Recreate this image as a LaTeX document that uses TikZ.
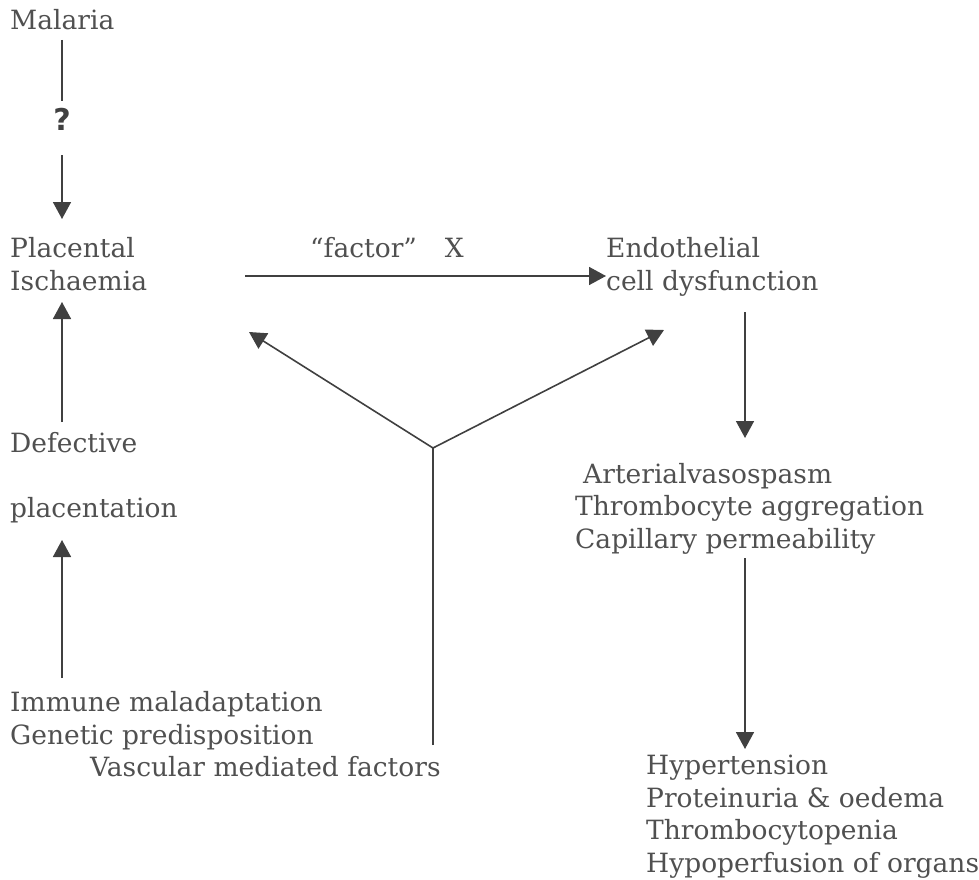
\documentclass[tikz,border=0pt]{standalone}
\usepackage{fontspec}
\setmainfont{DejaVu Serif}
\setsansfont{DejaVu Sans}
\usetikzlibrary{arrows.meta}
\definecolor{txt}{HTML}{505050}
\definecolor{ln}{HTML}{404040}
\begin{document}
\begin{tikzpicture}[x=1pt,y=-1pt,
  lbl/.style={anchor=base west,inner sep=0pt,text=txt,font=\fontsize{26.5}{32.5}\selectfont,align=left},
  conn/.style={draw=ln,line width=1.6pt},
  arr/.style={conn,-{Triangle[width=18pt,length=17pt]}}]
\useasboundingbox (0,0) rectangle (979,880);
% texts (anchor = baseline of last line)
\node[lbl] (mal) at (10,30) {Malaria};
\node[text=ln,font=\sffamily\bfseries\fontsize{30}{32}\selectfont,inner sep=0pt] (q) at (62,119) {?};
\node[lbl] (plac) at (10,290) {Placental\\Ischaemia};
\node[lbl] (fx) at (310,257) {“factor”\hspace{28pt}X};
\node[lbl] (endo) at (606,290) {Endothelial\\cell dysfunction};
\node[lbl] (def) at (10,452) {Defective};
\node[lbl] (pl2) at (10,517) {placentation};
\node[lbl] (imm) at (10,744) {Immune maladaptation\\Genetic predisposition};
\node[lbl] (vasc) at (90,776) {Vascular mediated factors};
\node[lbl] (art) at (583,483) {Arterialvasospasm};
\node[lbl] (thr) at (575,548) {Thrombocyte aggregation\\Capillary permeability};
\node[lbl] (hyp) at (646,872) {Hypertension\\Proteinuria \& oedema\\Thrombocytopenia\\Hypoperfusion of organs};
% coordinates
\coordinate (m1) at (62,40);
\coordinate (m2) at (62,101);
\coordinate (m3) at (62,155);
\coordinate (m4) at (62,219);
\coordinate (h1) at (245,276);
\coordinate (h2) at (606,276);
\coordinate (d1) at (62,422);
\coordinate (d2) at (62,302);
\coordinate (p1) at (62,678);
\coordinate (p2) at (62,540);
\coordinate (v1) at (433,745);
\coordinate (vj) at (433,448);
\coordinate (vl) at (249,332);
\coordinate (vr) at (664,330);
\coordinate (e1) at (745,312);
\coordinate (e2) at (745,438);
\coordinate (c1) at (745,558);
\coordinate (c2) at (745,749);
% connectors
\draw[conn] (m1) -- (m2);
\draw[arr] (m3) -- (m4);
\draw[arr] (h1) -- (h2);
\draw[arr] (d1) -- (d2);
\draw[arr] (p1) -- (p2);
\draw[conn] (v1) -- (vj);
\draw[arr] (vj) -- (vl);
\draw[arr] (vj) -- (vr);
\draw[arr] (e1) -- (e2);
\draw[arr] (c1) -- (c2);
\end{tikzpicture}
\end{document}
